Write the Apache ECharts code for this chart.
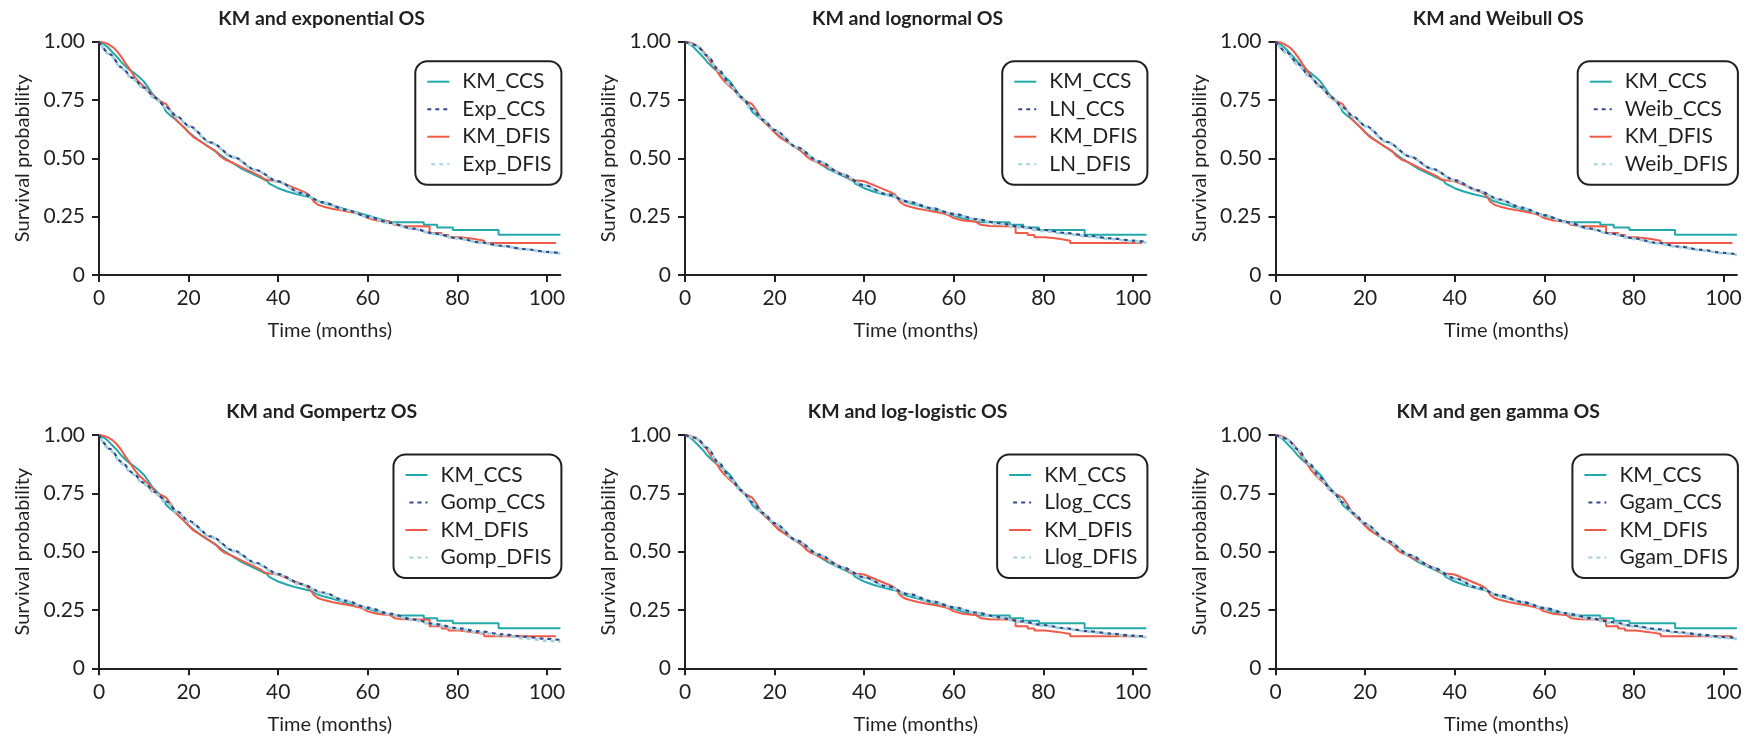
<!DOCTYPE html>
<html>
<head>
<meta charset="utf-8">
<script src="https://cdn.jsdelivr.net/npm/echarts@6.0.0/dist/echarts.min.js"></script>
<style>
html,body{margin:0;padding:0;background:#fff;}
#chart{width:1755px;height:744px;}
</style>
</head>
<body>
<div id="chart"></div>
<script>
// ---------------- DATA ----------------
const panelTitles = ['KM and exponential OS','KM and lognormal OS','KM and Weibull OS',
  'KM and Gompertz OS','KM and log-logistic OS','KM and gen gamma OS'];
const modelPrefixes = ['Exp','LN','Weib','Gomp','Llog','Ggam'];
const xTickValues = [0,20,40,60,80,100];
const yTickValues = [0,0.25,0.5,0.75,1];

// Kaplan-Meier (time in months, survival)
const kmCcs = [[0,1],[1,0.99],[2,0.975],[3,0.955],[4,0.935],[5,0.912],[6,0.893],[7,0.877],[8,0.864],[9,0.848],[10,0.83],[11,0.803],[12,0.775],[13,0.755],[14,0.738],[15,0.700],[16,0.683],[17,0.668],[18,0.650],[19,0.632],[20,0.612],[22,0.582],[24,0.556],[26,0.530],[28,0.502],[30,0.478],[32,0.454],[34,0.436],[36,0.418],[37.5,0.404],[38,0.392],[40,0.372],[42,0.358],[44,0.347],[46,0.338],[47.5,0.331],[48.5,0.318],[50,0.309],[52,0.299],[54,0.287],[56,0.276],[58,0.266],[60,0.255],[62,0.243],[64,0.233],[65.5,0.226],[72.5,0.226],[72.5,0.215],[75.5,0.215],[75.5,0.204],[79,0.204],[79,0.193],[89.2,0.193],[89.2,0.172],[103,0.172]];
const kmDfis = [[0,1],[1,0.997],[2,0.99],[3,0.978],[4,0.96],[5,0.935],[6,0.905],[7,0.878],[8,0.848],[9,0.826],[10,0.808],[11,0.792],[12,0.77],[13,0.75],[14,0.742],[15,0.732],[16,0.705],[17,0.67],[18,0.65],[19,0.632],[20,0.612],[21,0.592],[22,0.58],[24,0.555],[26,0.532],[27,0.51],[28,0.496],[30,0.48],[32,0.46],[34,0.442],[36,0.424],[37,0.41],[38,0.406],[40,0.402],[42,0.386],[44,0.37],[46,0.354],[47,0.342],[48,0.313],[49,0.3],[50,0.294],[52,0.284],[54,0.277],[56,0.27],[58,0.262],[59,0.255],[60,0.244],[62,0.234],[64,0.23],[65,0.228],[66,0.215],[68,0.21],[73.8,0.208],[73.8,0.18],[76.5,0.18],[76.5,0.171],[78,0.171],[78,0.162],[80.5,0.162],[80.5,0.155],[83.5,0.155],[83.5,0.147],[86,0.147],[86,0.137],[102,0.137]];

// Parametric model curves, read at these times
const modelTimes = [0,2.5,5,7.5,10,12.5,15,17.5,20,25,30,35,40,45,50,55,60,65,70,75,80,85,90,95,100,103];
const expCcs  = [1.000,0.946,0.890,0.845,0.803,0.760,0.719,0.679,0.640,0.568,0.506,0.450,0.401,0.352,0.312,0.280,0.250,0.223,0.199,0.177,0.158,0.140,0.125,0.111,0.099,0.093];
const expDfis = [1.000,0.943,0.886,0.841,0.799,0.756,0.715,0.676,0.637,0.566,0.504,0.448,0.399,0.350,0.311,0.279,0.249,0.222,0.198,0.176,0.157,0.139,0.124,0.110,0.098,0.092];
const lnCcs   = [1.000,0.985,0.940,0.880,0.820,0.763,0.712,0.665,0.622,0.548,0.487,0.433,0.385,0.347,0.314,0.287,0.262,0.240,0.222,0.207,0.193,0.180,0.168,0.157,0.147,0.142];
const lnDfis  = [1.000,0.983,0.936,0.876,0.816,0.760,0.709,0.662,0.620,0.546,0.485,0.432,0.384,0.346,0.313,0.285,0.260,0.238,0.219,0.203,0.189,0.176,0.165,0.154,0.144,0.139];
const weibCcs = [1.000,0.955,0.905,0.855,0.808,0.762,0.718,0.678,0.640,0.570,0.508,0.455,0.407,0.364,0.324,0.289,0.257,0.227,0.200,0.177,0.157,0.138,0.122,0.108,0.095,0.088];
const weibDfis= [1.000,0.952,0.902,0.852,0.805,0.759,0.716,0.676,0.638,0.568,0.507,0.454,0.405,0.362,0.322,0.287,0.255,0.225,0.198,0.175,0.155,0.136,0.120,0.106,0.093,0.086];
const gompCcs = [1.000,0.940,0.885,0.838,0.795,0.755,0.715,0.672,0.632,0.565,0.505,0.452,0.405,0.362,0.325,0.290,0.260,0.234,0.210,0.190,0.172,0.158,0.146,0.135,0.126,0.121];
const gompDfis= [1.000,0.935,0.878,0.832,0.790,0.750,0.710,0.668,0.628,0.562,0.502,0.449,0.402,0.359,0.322,0.287,0.257,0.231,0.207,0.186,0.168,0.153,0.140,0.129,0.119,0.113];
const llogCcs = [1.000,0.988,0.945,0.882,0.820,0.763,0.712,0.665,0.622,0.548,0.487,0.434,0.390,0.352,0.318,0.288,0.262,0.239,0.219,0.201,0.185,0.171,0.159,0.149,0.140,0.135];
const llogDfis= [1.000,0.986,0.942,0.879,0.817,0.760,0.709,0.662,0.620,0.546,0.485,0.432,0.388,0.350,0.316,0.286,0.260,0.237,0.217,0.199,0.183,0.169,0.157,0.146,0.137,0.133];
const ggamCcs = [1.000,0.984,0.938,0.878,0.818,0.762,0.711,0.664,0.621,0.547,0.486,0.433,0.386,0.347,0.314,0.285,0.259,0.236,0.216,0.198,0.182,0.168,0.155,0.144,0.134,0.129];
const ggamDfis= [1.000,0.982,0.935,0.875,0.815,0.759,0.708,0.661,0.619,0.545,0.484,0.431,0.384,0.345,0.312,0.283,0.257,0.234,0.213,0.195,0.179,0.164,0.152,0.141,0.131,0.126];

const modelCcs  = [expCcs, lnCcs, weibCcs, gompCcs, llogCcs, ggamCcs];
const modelDfis = [expDfis, lnDfis, weibDfis, gompDfis, llogDfis, ggamDfis];

// ---------------- LAYOUT / STYLE ----------------
const W = 1755;
const gridW = 461.4, gridH = 233.3;
const gridPos = [[99,41.7],[685,41.7],[1275.5,41.7],[99,435],[685,435],[1275.5,435]];
const ink = '#231f20';
const cTeal = '#22a9ab', cRed = '#f05a48', cNavy = '#34498a', cLight = '#9fd3dc';
const font = 'Lato, "Noto Sans", sans-serif';

const zip = (xs, ys) => xs.map((x, i) => [x, ys[i]]);

const option = {
  backgroundColor: '#ffffff',
  animation: false,
  title: [], grid: [], xAxis: [], yAxis: [], legend: [], series: []
};

gridPos.forEach(([gl, gt], i) => {
  option.grid.push({left: gl, top: gt, width: gridW, height: gridH, containLabel: false});
  option.title.push({
    text: panelTitles[i], left: gl + gridW / 2 - 8, top: gt - 23, textAlign: 'center', textVerticalAlign: 'middle',
    padding: 0,
    textStyle: {fontFamily: font, fontWeight: 'bold', fontSize: 19.5, color: ink}
  });
  option.xAxis.push({
    gridIndex: i, type: 'value', min: 0, max: 103,
    name: 'Time (months)', nameLocation: 'middle', nameGap: 46,
    nameTextStyle: {fontFamily: font, fontSize: 20, color: ink},
    axisLine: {show: true, lineStyle: {color: ink, width: 2}},
    axisTick: {show: true, length: 7, lineStyle: {color: ink, width: 2}, customValues: xTickValues},
    axisLabel: {fontFamily: font, fontSize: 21, color: ink, margin: 13, customValues: xTickValues},
    splitLine: {show: false}
  });
  option.yAxis.push({
    gridIndex: i, type: 'value', min: 0, max: 1, interval: 0.25,
    name: 'Survival probability', nameLocation: 'middle', nameGap: 66,
    nameTextStyle: {fontFamily: font, fontSize: 20, color: ink},
    axisLine: {show: true, lineStyle: {color: ink, width: 2}},
    axisTick: {show: true, length: 7, lineStyle: {color: ink, width: 2}},
    axisLabel: {fontFamily: font, fontSize: 21, color: ink, margin: 14,
      formatter: v => (v === 0 ? '0' : v.toFixed(2))},
    splitLine: {show: false}
  });
  const mC = modelPrefixes[i] + '_CCS', mD = modelPrefixes[i] + '_DFIS';
  option.legend.push({
    orient: 'vertical', right: W - (gl + gridW) - 1, top: gt + 19.5,
    padding: [10, 10, 10, 11], itemGap: 6.5, itemWidth: 22, itemHeight: 14,
    borderColor: ink, borderWidth: 2, borderRadius: 12, backgroundColor: '#fff',
    selectedMode: false,
    itemStyle: {opacity: 0},
    textStyle: {fontFamily: font, fontSize: 21, color: ink, lineHeight: 20, padding: [0, 0, 0, 8]},
    data: ['KM_CCS', mC, 'KM_DFIS', mD]
  });
  const base = {type: 'line', xAxisIndex: i, yAxisIndex: i, symbol: 'none', showSymbol: false, silent: true};
  option.series.push(
    Object.assign({}, base, {name: 'KM_CCS', data: kmCcs, lineStyle: {color: cTeal, width: 2}, itemStyle: {color: cTeal}, z: 2}),
    Object.assign({}, base, {name: mC, data: zip(modelTimes, modelCcs[i]), smooth: 0.3, smoothMonotone: 'x',
      lineStyle: {color: cNavy, width: 2.2, type: [4, 4]}, itemStyle: {color: cNavy}, z: 3}),
    Object.assign({}, base, {name: 'KM_DFIS', data: kmDfis, lineStyle: {color: cRed, width: 2}, itemStyle: {color: cRed}, z: 2}),
    Object.assign({}, base, {name: mD, data: zip(modelTimes, modelDfis[i]), smooth: 0.3, smoothMonotone: 'x',
      lineStyle: {color: cLight, width: 2.8, type: [4, 4], dashOffset: 4}, itemStyle: {color: cLight}, z: 3})
  );
});

const chart = echarts.init(document.getElementById('chart'), null, {renderer: 'canvas'});
chart.setOption(option);
</script>
</body>
</html>
